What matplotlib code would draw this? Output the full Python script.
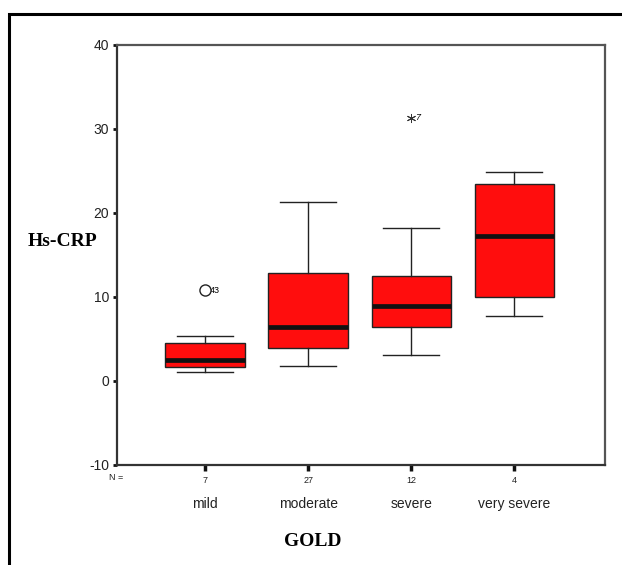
import matplotlib
matplotlib.use('Agg')
import matplotlib.pyplot as plt
from matplotlib.patches import Rectangle

# GOLD stage groups, Hs-CRP values
groups = ['mild', 'moderate', 'severe', 'very severe']
counts = [7, 27, 12, 4]
whisker_low = [1.1, 1.8, 3.1, 7.7]
q1 = [1.7, 3.9, 6.4, 10.0]
median = [2.5, 6.4, 8.9, 17.3]
q3 = [4.5, 12.9, 12.5, 23.5]
whisker_high = [5.4, 21.3, 18.2, 24.9]

# outliers: (group index, value, case label, kind)
outlier_group = [0, 2]
outlier_value = [10.8, 31.3]
outlier_case = ['43', '7']
outlier_kind = ['o', '*']

W, H = 622, 565
fig = plt.figure(figsize=(W / 100, H / 100), dpi=100)

# outer frame of the picture (only top and left edge inside the image)
fig.patches.append(Rectangle((9 / W, -0.1), 1.2, 1 - 14 / H + 0.1,
                             transform=fig.transFigure, fill=False,
                             edgecolor='black', linewidth=2.2))

ax = fig.add_axes([117 / W, 1 - 465 / H, (605 - 117) / W, (465 - 45) / H])

positions = list(range(1, len(groups) + 1))
stats = []
for i in range(len(groups)):
    stats.append({'whislo': whisker_low[i], 'q1': q1[i], 'med': median[i],
                  'q3': q3[i], 'whishi': whisker_high[i], 'fliers': []})

ax.bxp(stats, positions=positions, widths=0.77, patch_artist=True,
       showfliers=False,
       boxprops=dict(facecolor='#ff0d0d', edgecolor='#222222', linewidth=1.0),
       medianprops=dict(color='#111111', linewidth=3.4),
       whiskerprops=dict(color='#222222', linewidth=1.0),
       capprops=dict(color='#222222', linewidth=1.0), capwidths=0.54)

for g, v, c, k in zip(outlier_group, outlier_value, outlier_case, outlier_kind):
    if k == 'o':
        ax.plot(positions[g], v, marker='o', markersize=8, markerfacecolor='white',
                markeredgecolor='#222222', markeredgewidth=1.0, zorder=5)
        ax.text(positions[g] + 0.05, v, c, fontsize=6.5, va='center', ha='left',
                family='Liberation Sans')
    else:
        ax.plot(positions[g], v, marker=(6, 2, 0), markersize=6.5,
                markeredgecolor='#333333', markeredgewidth=0.7, zorder=5)
        ax.text(positions[g] + 0.035, v + 0.1, c, fontsize=6.5, va='center', ha='left',
                family='Liberation Sans', style='italic')

ax.set_xlim(0.146, 4.88)
ax.set_ylim(-10, 40)
ax.set_yticks([-10, 0, 10, 20, 30, 40])
ax.set_yticklabels(['-10', '0', '10', '20', '30', '40'], family='Liberation Sans',
                   fontsize=10, color='#222222')
ax.set_xticks(positions)
ax.set_xticklabels([])
ax.tick_params(axis='y', direction='out', length=3, width=2, pad=2.5, color='#111111')
ax.tick_params(axis='x', direction='out', length=4, width=2.5, color='#111111')
for s in ax.spines.values():
    s.set_color('#555555')
    s.set_linewidth(1.6)
ax.spines['left'].set_color('#333333')
ax.spines['bottom'].set_color('#333333')

# N = counts under the axis
fig.text(123 / W, 1 - 478 / H, 'N =', fontsize=6.5, ha='right', va='center',
         family='Liberation Sans', color='#222222')
for p, n, g in zip(positions, counts, groups):
    ax.annotate(str(n), xy=(p, 0), xycoords=('data', 'axes fraction'),
                xytext=(0, -11), textcoords='offset points', ha='center', va='center',
                fontsize=6.5, family='Liberation Sans', color='#222222')
    ax.annotate(g, xy=(p, 0), xycoords=('data', 'axes fraction'),
                xytext=(0, -28), textcoords='offset points', ha='center', va='center',
                fontsize=10, family='Liberation Sans', color='#222222')

fig.text(62 / W, 1 - 242 / H, 'Hs-CRP', fontsize=14, fontweight='bold',
         family='Liberation Serif', ha='center', va='center')
fig.text(313 / W, 1 - 541 / H, 'GOLD', fontsize=14, fontweight='bold',
         family='Liberation Serif', ha='center', va='center')

fig.savefig('out.png', dpi=100)
